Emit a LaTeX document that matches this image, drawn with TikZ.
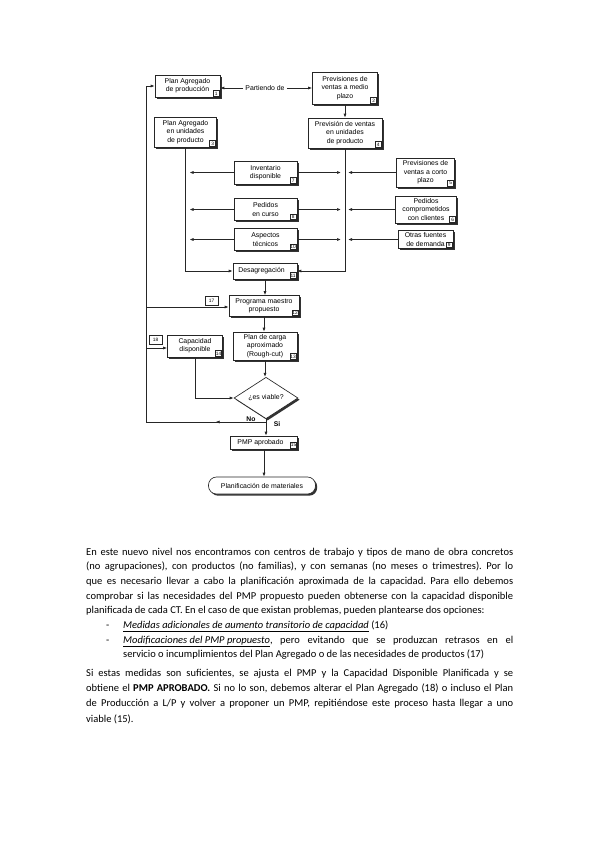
\documentclass[tikz,border=0pt]{standalone}
\usepackage{fontspec}
\setmainfont{Carlito}
\newfontfamily\diag{Liberation Sans}
\usetikzlibrary{arrows.meta,shapes.geometric,shadows,calc,decorations.markings}
\frenchspacing
\begin{document}
\begin{tikzpicture}[x=1pt,y=-1pt,
  every node/.style={inner sep=0pt},
  dfont/.style={font=\diag\fontsize{6.9}{8.4}\selectfont},
  box/.style={dfont, draw=black!85, line width=0.65pt, fill=white, align=center,
    drop shadow={shadow xshift=1.7pt,shadow yshift=-1.7pt,fill=black!80,opacity=1}},
  tag/.style={draw=black!85, line width=0.45pt, fill=white,
    font=\diag\fontsize{4.8}{5}\selectfont, minimum width=6pt, minimum height=5.5pt, inner sep=0.4pt},
  ln/.style={draw=black!85, line width=0.7pt},
  arr/.style={ln, -{Latex[length=4pt,width=3pt]}},
  body/.style={text width=#1, align=justify, font=\fontsize{10.5}{14.7}\selectfont},
  body/.default=427pt,
]
\fill[white] (0,0) rectangle (599,848);
\useasboundingbox (0,0) rectangle (599,848);

% top row
\node[box, minimum width=65pt, minimum height=22pt] (b1) at (187.5,86) {Plan Agregado\\de producción};
\node[tag, anchor=south east] (t1) at ($(b1.south east)+(-1,-1)$) {1};
\node[dfont] (pd) at (265,88) {Partiendo de};
\node[box, minimum width=65pt, minimum height=32pt] (b2) at (345,88) {Previsiones de\\ventas a medio\\plazo};
\node[tag, anchor=south east] (t2) at ($(b2.south east)+(-1,-1)$) {2};

\node[box, minimum width=62pt, minimum height=30pt] (b3) at (185.5,132) {Plan Agregado\\en unidades\\de producto};
\node[tag, anchor=south east] (t3) at ($(b3.south east)+(-1,-1)$) {3};
\node[box, minimum width=74pt, minimum height=30pt] (b4) at (345,133) {Previsión de ventas\\en unidades\\de producto};
\node[tag, anchor=south east] (t4) at ($(b4.south east)+(-1,-1)$) {4};

% middle column
\node[box, minimum width=63pt, minimum height=23pt] (b7) at (265.5,172.5) {Inventario\\disponible};
\node[tag, anchor=south east] (t7) at ($(b7.south east)+(-1,-1)$) {7};
\node[box, minimum width=63pt, minimum height=22pt] (b8) at (265.5,209.5) {Pedidos\\en curso};
\node[tag, anchor=south east] (t8) at ($(b8.south east)+(-1,-1)$) {8};
\node[box, minimum width=63pt, minimum height=22pt] (b10) at (265.5,239.5) {Aspectos\\técnicos};
\node[tag, anchor=south east] (t10) at ($(b10.south east)+(-1,-1)$) {10};

% right column
\node[box, minimum width=58pt, minimum height=29pt] (b5) at (425.5,172.5) {Previsiones de\\ventas a corto\\plazo};
\node[tag, anchor=south east] (t5) at ($(b5.south east)+(-1,-1)$) {5};
\node[box, minimum width=61pt, minimum height=27pt] (b6) at (426,209.5) {Pedidos\\comprometidos\\con clientes};
\node[tag, anchor=south east] (t6) at ($(b6.south east)+(-1,-1)$) {6};
\node[box, minimum width=55pt, minimum height=18pt] (b9) at (425.5,239.5) {Otras fuentes\\de demanda};
\node[tag, anchor=south east] (t9) at ($(b9.south east)+(-1,-1)$) {9};

\node[box, minimum width=64pt, minimum height=16pt] (b11) at (265,271) {Desagregación\hspace{7pt}};
\node[tag, anchor=south east] (t11) at ($(b11.south east)+(-1,-1)$) {11};

\node[box, minimum width=70pt, minimum height=21pt] (b12) at (264,306) {Programa maestro\\propuesto};
\node[tag, anchor=south east] (t12) at ($(b12.south east)+(-1,-1)$) {12};
\node[tag, minimum width=13pt, minimum height=9pt] (t17) at (211.5,300.5) {17};

\node[box, minimum width=64pt, minimum height=28pt] (b13) at (265,346) {Plan de carga\\aproximado\\(Rough-cut)};
\node[tag, anchor=south east] (t13) at ($(b13.south east)+(-1,-1)$) {13};
\node[box, minimum width=55pt, minimum height=22pt] (b14) at (195,346) {Capacidad\\disponible\hspace{7pt}};
\node[tag, anchor=south east] (t14) at ($(b14.south east)+(-1,-1)$) {14};
\node[tag, minimum width=13pt, minimum height=9pt] (t18) at (155.5,339.5) {18};

\node[dfont, diamond, draw=black!85, line width=0.65pt, fill=white, minimum width=64pt, minimum height=40pt,
  drop shadow={shadow xshift=1.7pt,shadow yshift=-1.7pt,fill=black!80,opacity=1}] (d) at (266,398) {¿es viable?};
\node[font=\diag\fontsize{6.8}{7}\selectfont\bfseries] (no) at (251,419) {No};
\node[font=\diag\fontsize{6.8}{7}\selectfont\bfseries] (si) at (277,424) {Si};

\node[box, minimum width=67pt, minimum height=13pt] (b15) at (264,442.5) {PMP aprobado\hspace{7pt}};
\node[tag, anchor=south east] (t15) at ($(b15.south east)+(-1,-1)$) {15};
\node[box, rounded corners=8pt, minimum width=107pt, minimum height=17pt] (pm) at (262,485.5) {Planificación de materiales};

% connectors top
\draw[arr, shorten <=2pt] (pd.west) -- (pd.west -| b1.east);
\draw[arr, shorten <=2pt] (pd.east) -- (pd.east -| b2.west);
\draw[arr] (b2.south) -- (b4.north);
\draw[arr] (b3.south) |- (b11.west);
\draw[arr] (b4.south) |- (b11.east);

% middle to side lines
\foreach \b in {b7,b8,b10}{
  \draw[arr, shorten >=4pt] (\b.west) -- (\b.west -| b3.south);
  \draw[arr, shorten >=4pt] (\b.east) -- (\b.east -| b4.south);
}
\foreach \b in {b5,b6,b9}{
  \draw[arr, shorten >=3pt] (\b.west) -- (\b.west -| b4.south);
}

% main flow
\draw[arr] (b11.south) -- (b11.south |- b12.north);
\draw[arr] (b12.south) -- (b12.south |- b13.north);
\draw[arr] (b13.south) -- (b13.south |- d.north);
\draw[arr] (b14.south) |- (d.west);
\draw[arr] (d.south) -- (d.south |- b15.north);
\draw[arr] (b15.south) -- (b15.south |- pm.north);

% feedback loop
\coordinate (noj) at (d.south |- 0,422);
\coordinate (lc) at (146,422);
\coordinate (c17) at (146,307);
\coordinate (c18) at (146,348);
\draw[ln, postaction={decorate, decoration={markings, mark=at position 0.42 with {\arrow{Latex[length=4pt,width=3pt]}}}}] (noj) -- (lc);
\draw[arr] (lc) |- (b1.west);
\draw[arr] (c17) -- (c17 -| b12.west);
\draw[arr] (c18) -- (c18 -| b14.west);

% body text
\node[body, anchor=base west] (p1) at (86,555) {En este nuevo nivel nos encontramos con centros de trabajo y tipos de mano de obra concretos\linebreak
(no agrupaciones), con productos (no familias), y con semanas (no meses o trimestres). Por lo\linebreak
que es necesario llevar a cabo la planificación aproximada de la capacidad. Para ello debemos\linebreak
comprobar si las necesidades del PMP propuesto pueden obtenerse con la capacidad disponible\linebreak
planificada de cada CT. En el caso de que existan problemas, pueden plantearse dos opciones:};
\node[body=10pt, anchor=base west] (dash1) at (106,628.5) {-};
\node[body=390pt, anchor=base west] (l1) at (123,628.5) {\underline{\textit{Medidas adicionales de aumento transitorio de capacidad}} (16)};
\node[body=10pt, anchor=base west] (dash2) at (106,643.2) {-};
\node[body=390pt, anchor=base west] (l2) at (123,643.2) {\underline{\textit{Modificaciones del PMP propuesto}}, pero evitando que se produzcan retrasos en el\linebreak
servicio o incumplimientos del Plan Agregado o de las necesidades de productos (17)};
\node[body, anchor=base west, font=\fontsize{10.5}{15.4}\selectfont] (p2) at (86,676) {Si estas medidas son suficientes, se ajusta el PMP y la Capacidad Disponible Planificada y se\linebreak
obtiene el \textbf{PMP APROBADO.} Si no lo son, debemos alterar el Plan Agregado (18) o incluso el Plan\linebreak
de Producción a L/P y volver a proponer un PMP, repitiéndose este proceso hasta llegar a uno\linebreak
viable (15).};
\end{tikzpicture}
\end{document}
